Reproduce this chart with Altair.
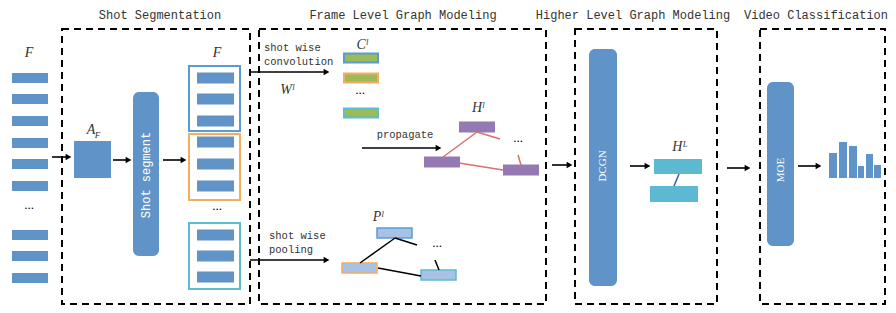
import altair as alt
import pandas as pd

# ---------------- data (diagram elements, reference pixel coordinates) ----------------
title_text = ["Shot Segmentation", "Frame Level Graph Modeling",
              "Higher Level Graph Modeling", "Video Classification"]
title_x = [160, 403, 633, 816]
title_y = [15, 15, 15, 15]

panel_x1 = [62, 259, 575, 760]
panel_x2 = [250, 546, 717, 885]
panel_y1 = [29, 29, 29, 29]
panel_y2 = [304, 304, 304, 304]

frame_y = [78, 99, 121, 143, 164, 186, 235, 256, 278]      # input frame features F
shot_bar_y = [78, 99, 121, 142, 164, 186, 235, 256, 277]   # frames grouped into shots
shot_box_y1 = [66, 134, 223]
shot_box_y2 = [131, 200, 289]
shot_colors = ["#5B9BD5", "#F7AC5E", "#5BBCD3"]

conv_y = [58, 78, 113]          # C^l features
prop_x1 = [459, 424, 503]       # H^l nodes
prop_y = [127, 162, 170]
pool_x1 = [377, 342, 421]       # P^l nodes
pool_y = [233, 268, 275]
pool_colors = ["#5B9BD5", "#F7AC5E", "#5BBCD3"]

# graph edges (x1, y1, x2, y2)
h_edges = [(443, 157, 477, 132), (477, 132, 500, 139), (459, 163, 503, 170), (521, 165, 518, 155)]
p_edges = [(360, 263, 395, 238), (395, 238, 417, 245), (378, 268, 421, 276), (439, 270, 435, 260)]
hl_edges = [(679, 174, 674, 186)]

# arrows (x1, y, x2)
arrows = [(52, 157, 72), (113, 160, 132), (163, 160, 187), (250, 72, 330), (362, 148, 442),
          (250, 260, 330), (552, 165, 573), (630, 166, 651), (727, 168, 751), (798, 166, 822)]

# classification score histogram
hist_x1 = [829, 839, 849, 858, 866, 874]
hist_x2 = [837, 847, 857, 864, 873, 881]
hist_top = [153, 142, 146, 166, 154, 165]
hist_base = 178

BLUE = "#6094C8"
GREEN = "#9BBB59"
PURPLE = "#9579B3"
RED = "#D9706A"
CYAN = "#5BB9D2"
LIGHTBLUE = "#A7C2E4"

X = alt.Scale(domain=[8, 888], nice=False, zero=False)
Y = alt.Scale(domain=[8, 305], nice=False, zero=False, reverse=True)


def xq(f):
    return alt.X(f, type="quantitative", scale=X, axis=None)


def yq(f):
    return alt.Y(f, type="quantitative", scale=Y, axis=None)


# ---------------- build tables ----------------
rects = []
for y in frame_y:
    rects.append(dict(x1=12, x2=48, y1=y - 5, y2=y + 5, fill=BLUE, stroke=BLUE, sw=0))
rects.append(dict(x1=74, x2=111, y1=141, y2=178, fill=BLUE, stroke=BLUE, sw=0))
for y in shot_bar_y:
    rects.append(dict(x1=197, x2=234, y1=y - 5.5, y2=y + 5.5, fill=BLUE, stroke=BLUE, sw=0))
for y, c in zip(conv_y, shot_colors):
    rects.append(dict(x1=344, x2=378, y1=y - 4.5, y2=y + 4.5, fill=GREEN, stroke=c, sw=2))
for x, y in zip(prop_x1, prop_y):
    rects.append(dict(x1=x, x2=x + 36, y1=y - 5.5, y2=y + 5.5, fill=PURPLE, stroke=PURPLE, sw=0))
for x, y, c in zip(pool_x1, pool_y, pool_colors):
    rects.append(dict(x1=x, x2=x + 35, y1=y - 5, y2=y + 5, fill=LIGHTBLUE, stroke=c, sw=1.5))
rects.append(dict(x1=654, x2=702, y1=159, y2=174, fill=CYAN, stroke=CYAN, sw=0))
rects.append(dict(x1=650, x2=698, y1=186, y2=202, fill=CYAN, stroke=CYAN, sw=0))
for a, b, t in zip(hist_x1, hist_x2, hist_top):
    rects.append(dict(x1=a, x2=b, y1=t, y2=hist_base, fill=BLUE, stroke=BLUE, sw=0))
rects_df = pd.DataFrame(rects)

boxes_df = pd.DataFrame(dict(x1=[189] * 3, x2=[240] * 3, y1=shot_box_y1, y2=shot_box_y2, stroke=shot_colors))

rounded_df = pd.DataFrame(dict(x1=[133, 589, 767], x2=[159, 617, 794], y1=[92, 49, 82], y2=[256, 286, 246]))

panels_df = pd.DataFrame(dict(x1=panel_x1, x2=panel_x2, y1=panel_y1, y2=panel_y2))

edges = []
for e in h_edges:
    edges.append(dict(x1=e[0], y1=e[1], x2=e[2], y2=e[3], c=RED, w=1.5))
for e in p_edges:
    edges.append(dict(x1=e[0], y1=e[1], x2=e[2], y2=e[3], c="#000000", w=1.5))
for e in hl_edges:
    edges.append(dict(x1=e[0], y1=e[1], x2=e[2], y2=e[3], c="#2F5F9E", w=1.5))
for a in arrows:
    edges.append(dict(x1=a[0], y1=a[1], x2=a[2] - 5, y2=a[1], c="#000000", w=1.6))
edges_df = pd.DataFrame(edges)

heads_df = pd.DataFrame(dict(x=[a[2] - 3.5 for a in arrows], y=[a[1] for a in arrows]))

titles_df = pd.DataFrame(dict(x=title_x, y=title_y, t=title_text))

small_left_df = pd.DataFrame(dict(
    x=[264, 264, 269, 269],
    y=[48, 62, 236, 250],
    t=["shot wise", "convolution", "shot wise", "pooling"]))
small_center_df = pd.DataFrame(dict(x=[405], y=[135], t=["propagate"]))

ital_df = pd.DataFrame(dict(
    x=[29, 217, 91, 287, 362, 478, 378, 680],
    y=[53, 53, 130, 90, 45, 108, 217, 147],
    t=["F", "F", "A", "Wˡ", "Cˡ", "Hˡ", "Pˡ", "Hᴸ"]))
sub_df = pd.DataFrame(dict(x=[97.5], y=[135], t=["F"]))

dots_df = pd.DataFrame(dict(x=[29, 217, 360, 518, 437], y=[205, 206, 90, 138, 243], t=["..."] * 5))

vert_mono_df = pd.DataFrame(dict(x=[146], y=[175], t=["Shot segment"]))
vert_serif_df = pd.DataFrame(dict(x=[603, 781], y=[166, 170], t=["DCGN", "MOE"]))

# ---------------- layers ----------------
enc_rect = dict(x=xq("x1"), x2="x2", y=yq("y1"), y2="y2")

panels = alt.Chart(panels_df).mark_rect(fillOpacity=0, stroke="#000000", strokeWidth=2,
                                        strokeDash=[7, 5]).encode(**enc_rect)

rounded = alt.Chart(rounded_df).mark_rect(cornerRadius=6, color=BLUE).encode(**enc_rect)

boxes = alt.Chart(boxes_df).mark_rect(fillOpacity=0, strokeWidth=2).encode(
    **enc_rect, stroke=alt.Stroke("stroke:N", scale=None))

bars = alt.Chart(rects_df).mark_rect().encode(
    **enc_rect,
    fill=alt.Fill("fill:N", scale=None),
    stroke=alt.Stroke("stroke:N", scale=None),
    strokeWidth=alt.StrokeWidth("sw:Q", scale=None))

lines = alt.Chart(edges_df).mark_rule().encode(
    x=xq("x1"), y=yq("y1"), x2="x2", y2="y2",
    color=alt.Color("c:N", scale=None),
    strokeWidth=alt.StrokeWidth("w:Q", scale=None))

heads = alt.Chart(heads_df).mark_point(shape="triangle-right", filled=True, size=45,
                                       color="#000000", opacity=1).encode(x=xq("x"), y=yq("y"))

titles = alt.Chart(titles_df).mark_text(font="Liberation Mono", fontSize=12, color="#333333",
                                        baseline="middle", align="center").encode(
    x=xq("x"), y=yq("y"), text="t:N")

small_left = alt.Chart(small_left_df).mark_text(
    font="Liberation Mono", fontSize=10.5, color="#333333", baseline="middle", align="left").encode(
    x=xq("x"), y=yq("y"), text="t:N")
small_center = alt.Chart(small_center_df).mark_text(
    font="Liberation Mono", fontSize=10.5, color="#333333", baseline="middle", align="center").encode(
    x=xq("x"), y=yq("y"), text="t:N")

ital = alt.Chart(ital_df).mark_text(font="Liberation Serif", fontStyle="italic", fontSize=14,
                                    color="#333333", baseline="middle", align="center").encode(
    x=xq("x"), y=yq("y"), text="t:N")
sub = alt.Chart(sub_df).mark_text(font="Liberation Serif", fontStyle="italic", fontSize=9,
                                  color="#333333", baseline="middle", align="center").encode(
    x=xq("x"), y=yq("y"), text="t:N")

dots = alt.Chart(dots_df).mark_text(font="Liberation Serif", fontSize=13, color="#000000",
                                    baseline="middle", align="center").encode(
    x=xq("x"), y=yq("y"), text="t:N")

vert_mono = alt.Chart(vert_mono_df).mark_text(angle=270, color="#FFFFFF", baseline="middle",
                                              align="center", font="Liberation Mono", fontSize=12).encode(
    x=xq("x"), y=yq("y"), text="t:N")
vert_serif = alt.Chart(vert_serif_df).mark_text(angle=270, color="#FFFFFF", baseline="middle",
                                                align="center", font="Liberation Serif", fontSize=11).encode(
    x=xq("x"), y=yq("y"), text="t:N")

chart = alt.layer(panels, rounded, boxes, bars, lines, heads, titles, small_left, small_center,
                  ital, sub, dots, vert_mono, vert_serif).properties(
    width=880, height=297, padding=0, autosize="none", background="#FFFFFF"
).configure_view(strokeWidth=0)

chart.save("out.html", embed_options={"renderer": "svg", "actions": False})
